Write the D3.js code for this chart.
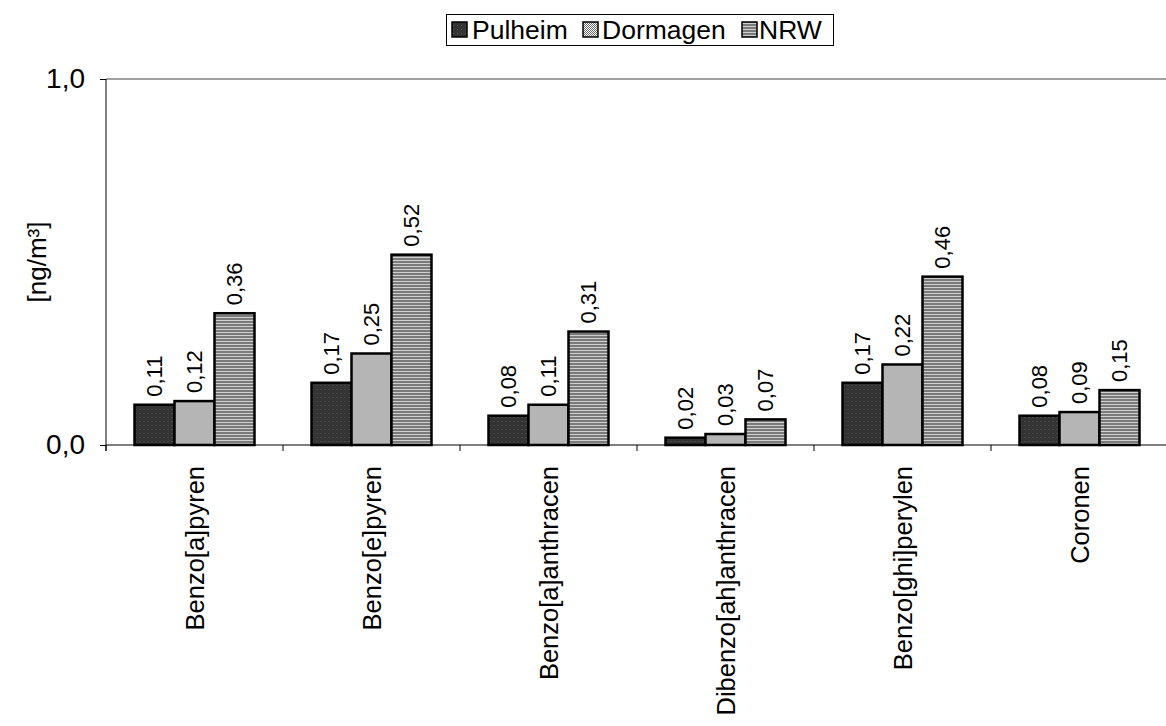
<!DOCTYPE html>
<html><head><meta charset="utf-8">
<script src="https://cdn.jsdelivr.net/npm/d3@7"></script>
<style>body{margin:0;background:#fff}svg{display:block;font-family:"Liberation Sans",Arial,sans-serif}</style>
</head><body><svg id="c" width="1166" height="726"></svg>
<script>
const categories = ["Benzo[a]pyren","Benzo[e]pyren","Benzo[a]anthracen","Dibenzo[ah]anthracen","Benzo[ghi]perylen","Coronen"];
const seriesNames = ["Pulheim","Dormagen","NRW"];
const pulheim = [0.11,0.17,0.08,0.02,0.17,0.08];
const dormagen = [0.12,0.25,0.11,0.03,0.22,0.09];
const nrw = [0.36,0.52,0.31,0.07,0.46,0.15];
const yTicks = [0,1];
const yTitle = "[ng/m³]";
const seriesValues = [pulheim, dormagen, nrw];

(function(){
const svg = d3.select("#c");
const defs = svg.append("defs");
const p1 = defs.append("pattern").attr("id","pat0").attr("patternUnits","userSpaceOnUse").attr("width",4).attr("height",4);
p1.append("rect").attr("width",4).attr("height",4).attr("fill","#333");
p1.append("rect").attr("x",1).attr("y",1).attr("width",1).attr("height",1).attr("fill","#5a5a5a");
const p2 = defs.append("pattern").attr("id","pat1").attr("patternUnits","userSpaceOnUse").attr("width",2).attr("height",2);
p2.append("rect").attr("width",2).attr("height",2).attr("fill","#fff");
p2.append("rect").attr("x",0).attr("y",0).attr("width",1).attr("height",1).attr("fill","#6a6a6a");
p2.append("rect").attr("x",1).attr("y",1).attr("width",1).attr("height",1).attr("fill","#6a6a6a");
const p3 = defs.append("pattern").attr("id","pat2").attr("patternUnits","userSpaceOnUse").attr("width",4).attr("height",3);
p3.append("rect").attr("width",4).attr("height",3).attr("fill","#cfcfcf");
p3.append("rect").attr("y",0).attr("width",4).attr("height",2).attr("fill","#7a7a7a");

const mLeft = 106, mRight = 1168, mTop = 79, mBottom = 445;
const x0 = d3.scaleBand().domain(categories).range([mLeft, mRight]).paddingInner(0).paddingOuter(0);
const x1 = d3.scaleBand().domain(seriesNames).range([0, 120]);
const y = d3.scaleLinear().domain([0,1]).range([mBottom, mTop]);

svg.append("line").attr("x1",mLeft).attr("x2",mRight).attr("y1",y(1)).attr("y2",y(1)).attr("stroke","#808080").attr("stroke-width",1.5);

const groups = svg.append("g").selectAll("g").data(categories).join("g")
  .attr("transform", d => `translate(${x0(d) + (x0.bandwidth()-120)/2},0)`);
groups.each(function(cat, ci){
  const g = d3.select(this);
  seriesNames.forEach((s, si) => {
    const v = seriesValues[si][ci];
    g.append("rect").attr("x", x1(s)).attr("y", y(v)).attr("width", x1.bandwidth()).attr("height", y(0)-y(v))
      .attr("fill", `url(#pat${si})`).attr("stroke","#000").attr("stroke-width",2.5);
    const cx = x1(s) + x1.bandwidth()/2;
    g.append("text").attr("transform", `translate(${cx},${y(v)-8}) rotate(-90)`)
      .attr("dominant-baseline","central").attr("text-anchor","start")
      .attr("font-size",22).text(d3.format(".2f")(v).replace(".",","));
  });
});

const yAxis = d3.axisLeft(y).tickValues(yTicks).tickSize(6).tickFormat(d => d3.format(".1f")(d).replace(".",","));
const ya = svg.append("g").attr("transform",`translate(${mLeft},0)`).call(yAxis);
ya.select(".domain").attr("d", `M0,${mTop}V${mBottom+6}`).attr("stroke","#000");
ya.selectAll("text").attr("font-size",28).attr("font-family","Liberation Sans, Arial, sans-serif").attr("fill","#000").attr("x",-21);
ya.selectAll("line").attr("stroke","#000");

const xa = svg.append("g").attr("transform",`translate(0,${mBottom})`);
xa.append("line").attr("x1",mLeft).attr("x2",mRight).attr("stroke","#000");
xa.selectAll("line.t").data(categories).join("line").attr("class","t")
  .attr("x1", d=>x0(d)).attr("x2", d=>x0(d)).attr("y1",0).attr("y2",6).attr("stroke","#000");
xa.selectAll("text").data(categories).join("text")
  .attr("transform", d => `translate(${x0(d)+x0.bandwidth()/2},21) rotate(-90)`)
  .attr("text-anchor","end").attr("dominant-baseline","central").attr("font-size",25.5).text(d=>d);

svg.append("text").attr("transform","translate(37,262) rotate(-90)").attr("text-anchor","middle")
  .attr("dominant-baseline","central").attr("font-size",26).text(yTitle);

const lg = svg.append("g");
lg.append("rect").attr("x",446.5).attr("y",14.5).attr("width",387).attr("height",31).attr("fill","#fff").attr("stroke","#000");
const sx = [452, 583, 742];
const tx = [472, 602, 759];
seriesNames.forEach((s,i)=>{
  lg.append("rect").attr("x",sx[i]).attr("y",22).attr("width",15).attr("height",15).attr("fill",`url(#pat${i})`).attr("stroke","#000").attr("stroke-width",1.5);
  lg.append("text").attr("x",tx[i]).attr("y",38.5).attr("font-size",26.5).text(s);
});
})();
</script></body></html>
